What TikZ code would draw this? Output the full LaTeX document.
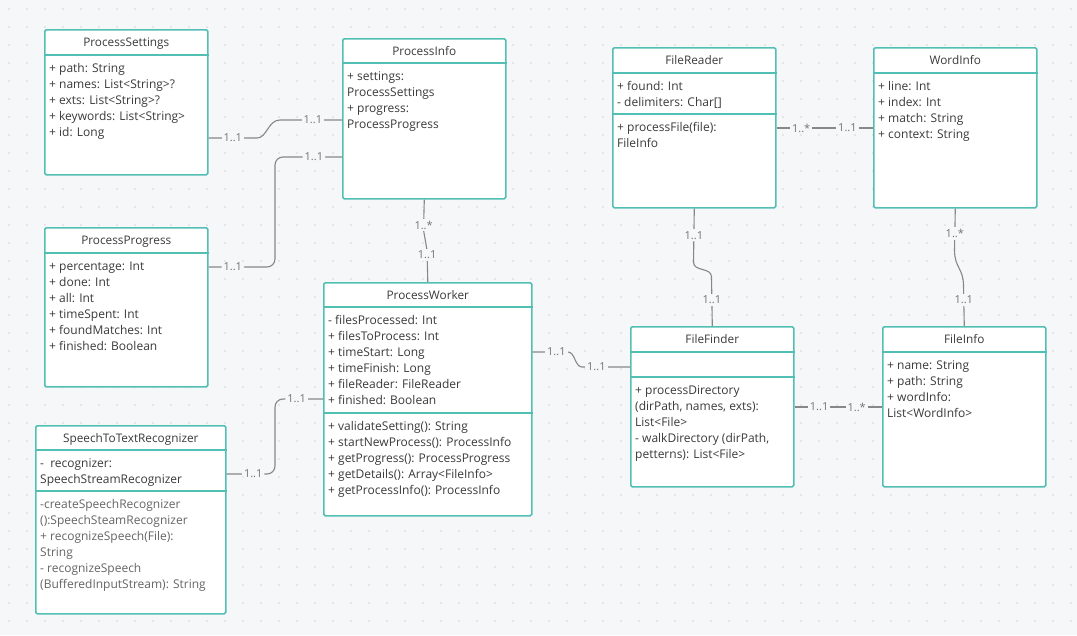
\documentclass[tikz,border=0pt]{standalone}
\usepackage{fontspec}
\setmainfont{Open Sans}
\usetikzlibrary{positioning}
\definecolor{fondo}{RGB}{246,247,249}
\definecolor{punto}{RGB}{212,214,220}
\definecolor{verde}{RGB}{82,191,181}
\definecolor{gris}{RGB}{135,135,135}
\definecolor{texto}{RGB}{58,58,58}

\begin{document}
\begin{tikzpicture}[x=1pt,y=-1pt,
	clase/.style={draw=verde, line width=1.6pt, fill=white, rounded corners=1.5pt, inner sep=0pt, anchor=north west},
	linea/.style={draw=verde, line width=1.6pt},
	titulo/.style={font=\fontsize{11.8}{16}\selectfont, text=texto, anchor=base},
	campos/.style={font=\fontsize{12}{16}\selectfont, text=texto, align=left, anchor=north west, inner sep=0pt},
	rel/.style={draw=gris, line width=1.1pt},
	mult/.style={font=\fontsize{11}{12}\selectfont, text=gris!85!black, fill=fondo, inner sep=2pt}]
		\fill[fondo] (0,0) rectangle (1077,635); %fondo
		\useasboundingbox (0,0) rectangle (1077,635);
		\foreach \i in {0,...,59}
			\foreach \j in {0,...,35}
				\fill[punto] (9+18*\i,9+18*\j) circle (0.8); %rejilla de puntos
		% clase ProcessSettings
		\node[clase, minimum width=163pt, minimum height=145pt] (settings) at (44,29) {};
		\node[titulo] at ([yshift=-17pt]settings.north) {ProcessSettings};
		\draw[linea] ([yshift=-26pt]settings.north west) -- ([yshift=-26pt]settings.north east);
		\node[campos] at ([xshift=5pt,yshift=-32pt]settings.north west) {\strut+ path: String\\+ names: List<String>?\\+ exts: List<String>?\\+ keywords: List<String>\\+ id: Long};
		% clase ProcessInfo
		\node[clase, minimum width=163pt, minimum height=160pt] (info) at (342,38) {};
		\node[titulo] at ([yshift=-17pt]info.north) {ProcessInfo};
		\draw[linea] ([yshift=-25pt]info.north west) -- ([yshift=-25pt]info.north east);
		\node[campos] at ([xshift=5pt,yshift=-31pt]info.north west) {\strut+ settings:\\ProcessSettings\\+ progress:\\ProcessProgress};
		% clase FileReader
		\node[clase, minimum width=163pt, minimum height=160pt] (reader) at (612,47) {};
		\node[titulo] at ([yshift=-17pt]reader.north) {FileReader};
		\draw[linea] ([yshift=-26pt]reader.north west) -- ([yshift=-26pt]reader.north east);
		\draw[linea] ([yshift=-67pt]reader.north west) -- ([yshift=-67pt]reader.north east);
		\node[campos] at ([xshift=5pt,yshift=-32pt]reader.north west) {\strut+ found: Int\\- delimiters: Char[]};
		\node[campos] at ([xshift=5pt,yshift=-73pt]reader.north west) {\strut+ processFile(file):\\FileInfo};
		% clase WordInfo
		\node[clase, minimum width=163pt, minimum height=160pt] (wordinfo) at (873,47) {};
		\node[titulo] at ([yshift=-17pt]wordinfo.north) {WordInfo};
		\draw[linea] ([yshift=-26pt]wordinfo.north west) -- ([yshift=-26pt]wordinfo.north east);
		\node[campos] at ([xshift=5pt,yshift=-32pt]wordinfo.north west) {\strut+ line: Int\\+ index: Int\\+ match: String\\+ context: String};
		% clase ProcessProgress
		\node[clase, minimum width=163pt, minimum height=159pt] (progress) at (44,227) {};
		\node[titulo] at ([yshift=-17pt]progress.north) {ProcessProgress};
		\draw[linea] ([yshift=-26pt]progress.north west) -- ([yshift=-26pt]progress.north east);
		\node[campos] at ([xshift=5pt,yshift=-32pt]progress.north west) {\strut+ percentage: Int\\+ done: Int\\+ all: Int\\+ timeSpent: Int\\+ foundMatches: Int\\+ finished: Boolean};
		% clase ProcessWorker
		\node[clase, minimum width=208pt, minimum height=233pt] (worker) at (323,282) {};
		\node[titulo] at ([yshift=-17pt]worker.north) {ProcessWorker};
		\draw[linea] ([yshift=-25pt]worker.north west) -- ([yshift=-25pt]worker.north east);
		\draw[linea] ([yshift=-131pt]worker.north west) -- ([yshift=-131pt]worker.north east);
		\node[campos] at ([xshift=5pt,yshift=-31pt]worker.north west) {\strut- filesProcessed: Int\\+ filesToProcess: Int\\+ timeStart: Long\\+ timeFinish: Long\\+ fileReader: FileReader\\+ finished: Boolean};
		\node[campos] at ([xshift=5pt,yshift=-137pt]worker.north west) {\strut+ validateSetting(): String\\+ startNewProcess(): ProcessInfo\\+ getProgress(): ProcessProgress\\+ getDetails(): Array<FileInfo>\\+ getProcessInfo(): ProcessInfo};
		% clase FileFinder
		\node[clase, minimum width=163pt, minimum height=160pt] (finder) at (630,326) {};
		\node[titulo] at ([yshift=-17pt]finder.north) {FileFinder};
		\draw[linea] ([yshift=-26pt]finder.north west) -- ([yshift=-26pt]finder.north east);
		\draw[linea] ([yshift=-51pt]finder.north west) -- ([yshift=-51pt]finder.north east);
		\node[campos] at ([xshift=5pt,yshift=-57pt]finder.north west) {\strut+ processDirectory\\(dirPath, names, exts):\\List<File>\\- walkDirectory (dirPath,\\petterns): List<File>};
		% clase FileInfo
		\node[clase, minimum width=163pt, minimum height=160pt] (fileinfo) at (882,326) {};
		\node[titulo] at ([yshift=-17pt]fileinfo.north) {FileInfo};
		\draw[linea] ([yshift=-26pt]fileinfo.north west) -- ([yshift=-26pt]fileinfo.north east);
		\node[campos] at ([xshift=5pt,yshift=-32pt]fileinfo.north west) {\strut+ name: String\\+ path: String\\+ wordInfo:\\List<WordInfo>};
		% clase SpeechToTextRecognizer
		\node[clase, minimum width=190pt, minimum height=188pt] (speech) at (35,425) {};
		\node[titulo] at ([yshift=-17pt]speech.north) {SpeechToTextRecognizer};
		\draw[linea] ([yshift=-25pt]speech.north west) -- ([yshift=-25pt]speech.north east);
		\draw[linea] ([yshift=-66pt]speech.north west) -- ([yshift=-66pt]speech.north east);
		\node[campos] at ([xshift=5pt,yshift=-31pt]speech.north west) {\strut-\ \ recognizer:\\SpeechStreamRecognizer};
		\node[campos, text=gris!75!black] at ([xshift=5pt,yshift=-72pt]speech.north west) {\strut-createSpeechRecognizer\\():SpeechSteamRecognizer\\+ recognizeSpeech(File):\\String\\- recognizeSpeech\\(BufferedInputStream): String};
		% relaciones
		\draw[rel] ([yshift=-109pt]settings.north east) -- node[mult]{1..1} (257,138) .. controls (267,138) and (268,120) .. (280,120) -- node[mult,pos=.53]{1..1} ([yshift=-82pt]info.north west); %settings - info
		\draw[rel, rounded corners=8pt] ([yshift=-40pt]progress.north east) -- node[mult]{1..1} (257,267) -- (275,267) -- (275,157) -- node[mult,pos=.58]{1..1} ([yshift=-119pt]info.north west); %progress - info
		\draw[rel] (info.south) -- node[mult,pos=.84]{1..*} (423.5,230) -- (427,250) -- node[mult,pos=.16]{1..1} (worker.north); %info - worker
		\draw[rel] ([yshift=-70pt]worker.north east) -- node[mult,pos=.67]{1..1} (568,352) .. controls (575,352) and (575,367) .. (582,367) -- node[mult,pos=.3]{1..1} ([yshift=-41pt]finder.north west); %worker - finder
		\draw[rel, rounded corners=8pt] ([yshift=-49pt]speech.north east) -- node[mult,pos=.55]{1..1} (275,474) -- (275,399) -- node[mult,pos=.45]{1..1} ([yshift=-117pt]worker.north west); %speech - worker
		\draw[rel] (reader.south) -- node[mult,pos=.5]{1..1} (693.5,262) .. controls (693.5,272) and (711.5,267) .. (711.5,277) -- node[mult,pos=.47]{1..1} (finder.north); %reader - finder
		\draw[rel] (wordinfo.south) -- node[mult,pos=.6]{1..*} (954.5,250) .. controls (954.5,268) and (963.5,268) .. (963.5,286) -- node[mult,pos=.35]{1..1} (fileinfo.north); %wordinfo - fileinfo
		\draw[rel] ([yshift=-81pt]reader.north east) -- node[mult,pos=.255]{1..*} node[mult,pos=.735]{1..1} ([yshift=-81pt]wordinfo.north west); %reader - wordinfo
		\draw[rel] ([yshift=-81pt]finder.north east) -- node[mult,pos=.28]{1..1} node[mult,pos=.71]{1..*} ([yshift=-81pt]fileinfo.north west); %finder - fileinfo
		\end{tikzpicture}
\end{document}
